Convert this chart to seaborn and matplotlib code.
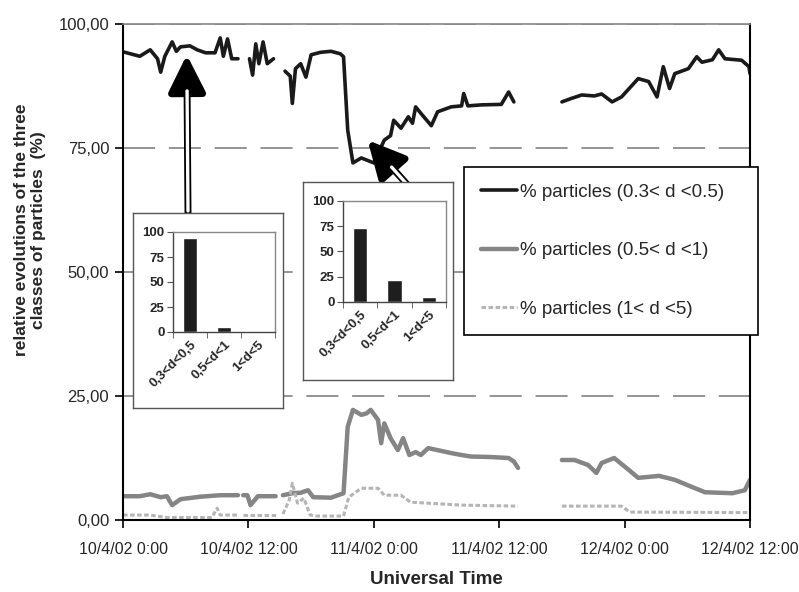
import numpy as np
import pandas as pd
import seaborn as sns
import matplotlib.pyplot as plt
from matplotlib.lines import Line2D
from matplotlib.ticker import FuncFormatter

# hours since 10/4/02 0:00 ; nan marks a gap in the record
fine_h = [0, 1.6, 2.6, 3.3, 3.6, 4.0, 4.7, 5.1, 5.5, 6.4, 7.1, 7.9, 8.8, 9.3, 9.6, 10.0, 10.4, 11.0,
          np.nan,
          12.1, 12.4, 12.7, 13.0, 13.4, 13.8, 14.4,
          np.nan,
          15.5, 16.0, 16.2, 16.5, 17.0, 17.5, 18.0, 18.9, 19.9, 20.8, 21.1, 21.5, 22.0, 22.8, 23.4,
          24.0, 25.0, 25.6, 25.9, 26.6, 27.3, 27.7, 28.0, 28.5, 29.5, 30.1, 31.4, 32.4, 32.6, 33.0,
          34.3, 36.2, 36.9, 37.4,
          np.nan,
          42.0, 42.9, 43.9, 45.1, 45.8, 46.8, 47.7, 49.3, 50.3, 51.1, 51.7, 52.3, 52.8, 54.1, 54.9,
          55.4, 56.4, 57.0, 57.6, 59.2, 59.9, 60.0]
fine_pct = [94.4, 93.5, 94.8, 93.0, 90.3, 93.5, 96.4, 94.5, 95.4, 95.6, 94.8, 94.2, 94.2, 97.2, 93.5,
            97.0, 93.0, 93.0,
            np.nan,
            93.0, 89.7, 96.0, 92.0, 96.4, 92.0, 93.0,
            np.nan,
            90.5, 89.5, 84.0, 91.0, 92.0, 89.3, 93.8, 94.3, 94.5, 94.0, 93.4, 78.6, 72.0, 73.0, 72.5,
            72.0, 76.6, 77.5, 80.6, 79.0, 81.3, 80.0, 83.3, 82.0, 79.5, 82.3, 83.3, 83.5, 86.0, 83.5,
            83.7, 83.8, 86.3, 84.3,
            np.nan,
            84.3, 85.0, 85.7, 85.5, 85.9, 84.3, 85.3, 89.0, 88.4, 85.3, 91.4, 87.0, 90.0, 91.0, 93.4,
            92.3, 92.8, 94.8, 93.0, 92.7, 91.4, 90.0]

mid_h = [0, 1.6, 2.6, 3.6, 4.2, 4.7, 5.5, 7.4, 9.3, 11.0,
         np.nan,
         11.5, 11.9, 12.2, 12.9, 14.6,
         np.nan,
         15.3, 16.2, 17.0, 17.7, 18.2, 19.9, 21.1, 21.5, 22.0, 22.8, 23.3, 23.7, 24.4, 24.7, 25.0,
         25.6, 26.3, 26.8, 27.4, 28.0, 28.5, 29.2, 31.4, 32.4, 33.3, 35.2, 36.9, 37.4, 37.8,
         np.nan,
         42.0, 43.2, 44.5, 45.3, 45.8, 47.0, 48.4, 49.3, 51.3, 52.8, 54.4, 55.7, 58.3, 59.5, 60.0]
mid_pct = [4.8, 4.8, 5.2, 4.6, 4.8, 3.0, 4.2, 4.7, 5.0, 5.0,
           np.nan,
           5.0, 5.0, 3.0, 4.8, 4.8,
           np.nan,
           5.0, 5.4, 5.5, 6.0, 4.6, 4.5, 5.4, 18.8, 22.2, 21.2, 21.5, 22.2, 20.2, 15.5, 19.5,
           16.5, 14.1, 16.5, 13.1, 13.7, 13.1, 14.5, 13.5, 13.1, 12.8, 12.7, 12.5, 11.8, 10.5,
           np.nan,
           12.1, 12.1, 11.1, 9.5, 11.5, 12.5, 10.1, 8.5, 8.9, 8.1, 6.7, 5.6, 5.4, 6.0, 8.1]

coarse_h = [0, 2.6, 4.2, 8.5, 9.0, 9.3, 11.0,
            np.nan,
            11.5, 14.6,
            np.nan,
            15.3, 15.9, 16.2, 16.7, 17.3, 17.9, 18.5, 21.1, 21.6, 22.8, 24.4, 25.0, 26.6, 27.5,
            32.4, 37.8,
            np.nan,
            42.0, 47.7, 48.5, 60.0]
coarse_pct = [1.0, 1.0, 0.5, 0.5, 2.4, 1.0, 1.0,
              np.nan,
              1.0, 1.0,
              np.nan,
              1.2, 4.0, 7.4, 3.4, 4.4, 1.0, 0.8, 0.8, 4.6, 6.4, 6.4, 5.0, 5.0, 3.6,
              3.0, 2.8,
              np.nan,
              2.8, 2.8, 1.6, 1.5]

series_labels = ["% particles (0.3< d <0.5)", "% particles (0.5< d <1)", "% particles (1< d <5)"]

tick_hours = [0, 12, 24, 36, 48, 60]
tick_labels = ["10/4/02 0:00", "10/4/02 12:00", "11/4/02 0:00",
               "11/4/02 12:00", "12/4/02 0:00", "12/4/02 12:00"]

bar_classes = ["0,3<d<0,5", "0,5<d<1", "1<d<5"]
bars_before = [94, 5, 1]   # 10/4 ~6h
bars_after = [73, 22, 5]   # 11/4 ~0h


def to_frame(h, v):
    df = pd.DataFrame({"h": h, "v": v})
    df["seg"] = df["v"].isna().cumsum()
    return df.dropna()


sns.set_style("white")
plt.rcParams["font.family"] = ["Liberation Sans", "DejaVu Sans"]

fig = plt.figure(figsize=(7.99, 5.92), dpi=100)
ax = fig.add_axes([0.154, 0.1216, 0.7847, 0.8378])

styles = [dict(color="#1a1a1a", lw=2.6, ls="-"),
          dict(color="#858585", lw=3.2, ls="-"),
          dict(color="#b5b5b5", lw=2.2, ls=(0, (1.5, 0.8)))]
for (h, v), st in zip([(fine_h, fine_pct), (mid_h, mid_pct), (coarse_h, coarse_pct)], styles):
    sns.lineplot(data=to_frame(h, v), x="h", y="v", units="seg", estimator=None,
                 color=st["color"], lw=st["lw"], ls=st["ls"], ax=ax, legend=False)

ax.set_xlim(0, 60)
ax.set_ylim(0, 100)
ax.set_xticks(tick_hours)
ax.set_xticklabels(tick_labels, fontsize=11.5)
ax.set_yticks([0, 25, 50, 75, 100])
ax.yaxis.set_major_formatter(FuncFormatter(lambda y, _: f"{y:.2f}".replace(".", ",")))
ax.tick_params(axis="y", labelsize=12, pad=4)
ax.tick_params(axis="x", pad=10)
ax.tick_params(direction="out", length=6, width=1.2, color="black", left=True, bottom=True)
ax.grid(axis="y", color="#777777", lw=1.1, ls=(0, (21, 9)))
for s in ["left", "bottom", "right"]:
    ax.spines[s].set_color("black")
    ax.spines[s].set_linewidth(1.5)
ax.spines["top"].set_color("#888888")
ax.spines["top"].set_linewidth(1.2)
ax.set_xlabel("Universal Time", fontsize=13.5, fontweight="bold", labelpad=10)
ax.set_ylabel("relative evolutions of the three\nclasses of particles  (%)",
              fontsize=12.5, fontweight="bold", linespacing=1.15)
ax.yaxis.set_label_coords(-0.123, 0.585)

# arrows pointing from the insets to the time of each snapshot
W, H = 799, 592
for tip, tail in [((6.1, 93.8), (188, H - 213)), ((23.4, 76.6), (437, H - 218))]:
    ax.annotate("", xy=tip, xycoords="data", xytext=tail, textcoords="figure pixels",
                arrowprops=dict(arrowstyle="-|>,head_length=1.4,head_width=0.7",
                                mutation_scale=16, lw=5, color="black",
                                shrinkA=0, shrinkB=0))
    ax.annotate("", xy=tip, xycoords="data", xytext=tail, textcoords="figure pixels",
                arrowprops=dict(arrowstyle="-", lw=2.4, color="white",
                                shrinkA=1.5, shrinkB=26))

# inset bar charts
for box, inner, vals in [((133, 213, 283, 408), (173, 232, 275, 332), bars_before),
                         ((303, 182, 453, 380), (343, 201, 446, 302), bars_after)]:
    bx = fig.add_axes([box[0] / W, 1 - box[3] / H, (box[2] - box[0]) / W, (box[3] - box[1]) / H])
    bx.set_xticks([])
    bx.set_yticks([])
    bx.set_facecolor("white")
    for sp in bx.spines.values():
        sp.set_color("#555555")
        sp.set_linewidth(1)
    ia = fig.add_axes([inner[0] / W, 1 - inner[3] / H, (inner[2] - inner[0]) / W,
                       (inner[3] - inner[1]) / H])
    sns.barplot(x=bar_classes, y=vals, color="#1e1e1e", saturation=1, width=0.42, ax=ia)
    ia.set_ylim(0, 100)
    ia.set_xlim(-0.5, 2.5)
    ia.set_yticks([0, 25, 50, 75, 100])
    ia.set_yticklabels(["0", "25", "50", "75", "100"], fontsize=9.5, fontweight="bold")
    ia.set_xticklabels(bar_classes, rotation=45, ha="right", rotation_mode="anchor",
                       fontsize=9.5, fontweight="bold")
    ia.set_xticks([-0.5, 0.5, 1.5, 2.5], minor=True)
    ia.tick_params(axis="x", which="major", length=0, pad=5)
    ia.tick_params(axis="x", which="minor", length=4, direction="out", bottom=True, color="#555555")
    ia.tick_params(axis="y", length=4, direction="out", left=True, pad=2, color="#555555")
    for sp in ia.spines.values():
        sp.set_color("#888888")
        sp.set_linewidth(1)
    ia.spines["left"].set_color("#444444")
    ia.spines["bottom"].set_color("#444444")
    ia.set_xlabel("")
    ia.set_ylabel("")

handles = [Line2D([], [], color=st["color"], lw=st["lw"], ls=st["ls"]) for st in styles]
leg = fig.legend(handles, series_labels, loc="upper left",
                 bbox_to_anchor=(464 / W, 1 - 167 / H, (758 - 464) / W, 0.0001), mode="expand",
                 fontsize=13.5, frameon=True, fancybox=False, framealpha=1, edgecolor="black",
                 borderpad=0.9, labelspacing=2.2, handlelength=1.9, handletextpad=0.2,
                 borderaxespad=0)
leg.get_frame().set_linewidth(1.2)

fig.savefig("out.png", dpi=100)
